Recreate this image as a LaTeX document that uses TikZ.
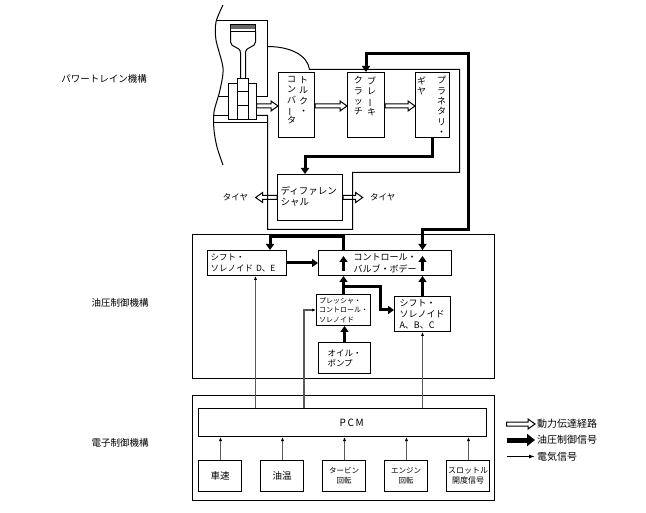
\documentclass[tikz,border=0pt]{standalone}
\usepackage{fontspec}
\setmainfont{Noto Sans CJK JP}
\usetikzlibrary{arrows.meta, calc, positioning}

\newcommand{\tatebo}{\rotatebox[origin=c]{90}{ー}}

\begin{document}
\begin{tikzpicture}[x=1pt,y=-1pt,line width=1pt,
    every node/.style={font=\fontsize{8.5}{10.5}\selectfont},
    box/.style={draw,line width=1pt,inner sep=0pt},
    group/.style={draw,line width=1pt,inner sep=0pt},
    sensor/.style={box,minimum width=43pt,minimum height=31pt,align=center},
    tate/.style={align=center,inner sep=0pt,anchor=north,font=\fontsize{9}{10.3}\selectfont},
    oil/.style={line width=3pt,-{Triangle[length=6pt,width=8pt]}},
    oilboth/.style={line width=3pt,{Triangle[length=6pt,width=8pt]}-{Triangle[length=6pt,width=8pt]}},
    sig/.style={draw=black!65,line width=1.5pt,-{Latex[length=4pt,width=3.2pt,color=black]}},
    power/.style={to path={let \p1=(\tikztostart), \p2=(\tikztotarget),
        \p3=($(\tikztotarget)!7pt!(\tikztostart)$) in
        (\x1,{\y2+2pt}) -- (\x3,{\y2+2pt}) -- (\x3,{\y2+5pt}) -- (\x2,\y2)
        -- (\x3,{\y2-5pt}) -- (\x3,{\y2-2pt}) -- (\x1,{\y2-2pt}) -- cycle}}]
\useasboundingbox (0,0) rectangle (646,513);

% group labels
\node[font=\fontsize{9.5}{11}\selectfont] (lblPT) at (104,79) {パワートレイン機構};
\node[font=\fontsize{9.5}{11}\selectfont] (lblHyd) at (120,303) {油圧制御機構};
\node[font=\fontsize{9.5}{11}\selectfont] (lblEl) at (120,443) {電子制御機構};

% engine
\draw plot[smooth] coordinates {(223,5) (216,22) (216,40) (223,68) (220,90) (214,112) (214,130) (217,147) (223,165)};
\draw (216.5,20.5) -- (267.5,20.5) -- (267.5,96.5) -- (256.5,96.5);
\draw (218,96.5) -- (228.5,96.5);
\draw (214,115.5) -- (228.5,115.5);
\draw (214,122.5) -- (267.5,122.5);
\fill[black!60] (230.5,25.5) rectangle (255.5,29.5);
\draw (230.5,24.5) rectangle (255.5,31.5);
\draw (230.5,31.5) -- (230.5,42) .. controls (230.5,48) and (240.5,46) .. (240.5,53) -- (240.5,78.5);
\draw (255.5,31.5) -- (255.5,42) .. controls (255.5,48) and (245.5,46) .. (245.5,53) -- (245.5,78.5);
\draw (237.5,78.5) rectangle (248.5,119.5);
\draw (237.5,91.5) -- (248.5,91.5) (237.5,105.5) -- (248.5,105.5);
\draw (228.5,83.5) rectangle (237.5,119.5);
\draw (248.5,83.5) rectangle (256.5,119.5);
\coordinate (crank) at (256.5,106);

% transmission case
\draw (256.5,115.5) -- (267.5,115.5) -- (267.5,229.5) -- (352.5,229.5) -- (352.5,172.5) -- (459.5,172.5)
  -- (459.5,69.5) -- (309.5,69.5) .. controls (307.5,55) and (290,46.5) .. (267.5,46.5);

% power train
\node[box,minimum width=36pt,minimum height=65pt] (tc) at (296.5,105) {};
\node[box,minimum width=37pt,minimum height=65pt] (bc) at (366,105) {};
\node[box,minimum width=34pt,minimum height=65pt] (pg) at (432.5,105) {};
\node[box,minimum width=65pt,minimum height=46pt] (diff) at (310,197.5) {};
\node[tate] (tcA) at (303.5,76) {ト\\ル\\ク\\・};
\node[tate] (tcB) at (291.5,76) {コ\\ン\\バ\\\tatebo\\タ};
\node[tate] (bcA) at (371.7,76) {ブ\\レ\\\tatebo\\キ};
\node[tate] (bcB) at (358.3,76) {ク\\ラ\\ッ\\チ};
\node[tate] (pgA) at (441.7,76) {プ\\ラ\\ネ\\タ\\リ\\・};
\node[tate] (pgB) at (421.7,76) {ギ\\ヤ};
\node[anchor=north west,align=left,inner sep=0pt,font=\fontsize{9.5}{11.6}\selectfont] (diffT) at (280,185.5) {ディファレン\\シャル};
\node[inner xsep=7pt] (tireL) at (235.5,197.5) {タイヤ};
\node[inner xsep=7pt] (tireR) at (382.8,197.5) {タイヤ};

\path[draw]
  (crank) edge[power] (tc.west |- crank)
  (tc.east |- crank) edge[power] (bc.west |- crank)
  (bc.east |- crank) edge[power] (pg.west |- crank)
  (diff.west) edge[power] (tireL.east)
  (diff.east) edge[power] (tireR.west);

% hydraulic control
\node[group,minimum width=302pt,minimum height=144pt] (hyd) at (343.5,306.5) {};
\node[box,minimum width=79pt,minimum height=25pt,text width=72.6pt,inner xsep=3.2pt,align=left,
  font=\fontsize{8.5}{11.7}\selectfont] (sde) at (247,263) {シフト・\\ソレノイド D、E};
\node[box,minimum width=133pt,minimum height=25pt,align=center,
  font=\fontsize{9}{11.7}\selectfont] (cvb) at (385,263) {コントロール・\\バルブ・ボデー};
\node[box,minimum width=54pt,minimum height=31pt,align=left,
  font=\fontsize{7}{9.3}\selectfont] (pcs) at (343.5,310) {プレッシャ・\\コントロール・\\ソレノイド};
\node[box,minimum width=56pt,minimum height=35pt,text width=46pt,inner xsep=5pt,align=left,
  font=\fontsize{9}{11}\selectfont] (sabc) at (422.5,314) {シフト・\\ソレノイド\\A、B、C};
\node[box,minimum width=52pt,minimum height=31pt,align=left,
  font=\fontsize{8.5}{9.8}\selectfont] (pump) at (344.5,358) {オイル・\\ポンプ};

\coordinate (oilT) at (468.5,53.5);
\coordinate (oilB) at (468.5,229.5);
\coordinate (pcsJ) at (343.5,287);
\coordinate (pcsK) at (380.5,310);

\draw[oil] (pg.south) -- ++(0,19) -| ([xshift=-5pt]diff.north);
\draw[oilboth] (bc.north) |- (oilT) -- (oilB) -| (cvb.north -| sabc.north);
\draw[oil] (sde.east) -- (cvb.west);
\draw[oil] (cvb.north -| pcs.north) -- ++(0,-13.5) -| ([xshift=23pt]sde.north);
\draw[oil] (cvb.south -| pcs.north) ++(0,-5) -- ++(0,-15);
\draw[oil] (cvb.south -| sabc.north) ++(0,-5) -- ++(0,-15);
\draw[oil] (pcs.north) -- (cvb.south -| pcs.north);
\draw[oil] (sabc.north) -- (cvb.south -| sabc.north);
\draw[oil] (pcsJ) -| (pcsK) -- (pcsK -| sabc.west);
\draw[oil] (pump.north) -- (pump.north |- pcs.south);

% electronic control
\node[group,minimum width=302pt,minimum height=105pt] (elec) at (343.5,448) {};
\node[box,minimum width=288pt,minimum height=28pt] (pcm) at (342.5,422.5) {};
\node[font=\fontsize{10}{12}\selectfont] (pcmT) at (351.7,422.5) {P\,C\,M};
\node[sensor,font=\fontsize{9.5}{11}\selectfont] (car) at (220,476) {車速};
\node[sensor,font=\fontsize{9.5}{11}\selectfont,right=18pt of car] (oilt) {油温};
\node[sensor,font=\fontsize{7.5}{10}\selectfont,right=18pt of oilt] (turb) {タービン\\回転};
\node[sensor,font=\fontsize{7.5}{10}\selectfont,right=18pt of turb] (eng) {エンジン\\回転};
\node[sensor,font=\fontsize{8}{10}\selectfont,right=18pt of eng] (thr) {スロットル\\開度信号};

\coordinate (deIn) at ([xshift=8.5pt]sde.south);
\coordinate (pcsIn) at ([xshift=-12pt]pcs.west);
\foreach \s in {car,oilt,turb,eng,thr}
  \draw[sig] ([xshift=.5pt]\s.north) -- ([xshift=.5pt]\s.north |- pcm.south);
\draw[sig] (deIn |- pcm.north) -- (deIn);
\draw[sig] (pcsIn |- pcm.north) |- (pcs.west);
\draw[sig] (sabc.south |- pcm.north) -- (sabc.south);

% legend
\coordinate (lgP) at (506.7,424);
\coordinate (lgO) at (506.7,440);
\coordinate (lgE) at (506.7,456.5);
\node[anchor=west,inner xsep=1.5pt,font=\fontsize{10}{12}\selectfont] (lgPt) at (535,424) {動力伝達経路};
\node[anchor=west,inner xsep=1.5pt,font=\fontsize{10}{12}\selectfont] (lgOt) at (535,440) {油圧制御信号};
\node[anchor=west,inner xsep=1.5pt,font=\fontsize{10}{12}\selectfont] (lgEt) at (535,456.5) {電気信号};
\path[draw] (lgP) edge[power] (lgPt.west);
\draw[line width=5pt,-{Triangle[length=8pt,width=12pt]}] (lgO) -- (lgOt.west);
\draw[line width=1pt,-{Latex[length=6pt,width=4pt]}] (lgE) -- (lgEt.west);
\end{tikzpicture}
\end{document}
